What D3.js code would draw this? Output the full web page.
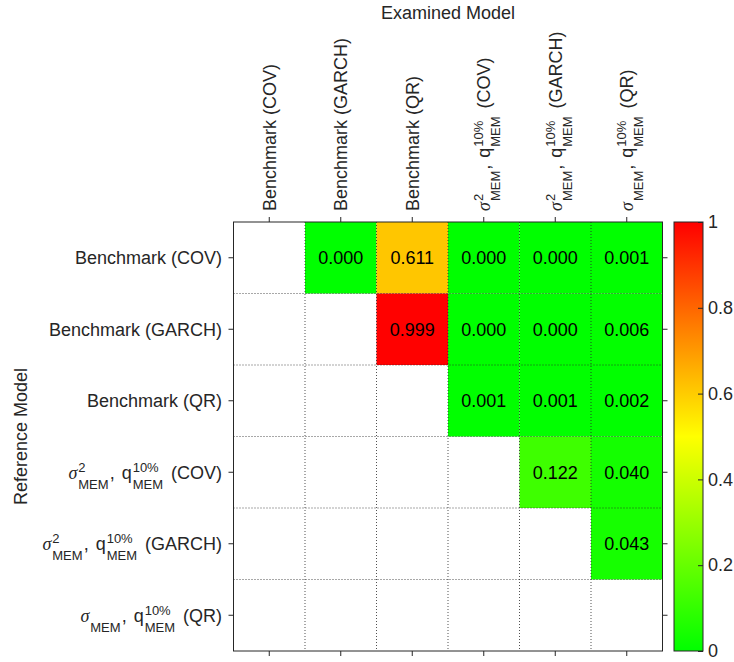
<!DOCTYPE html>
<html>
<head>
<meta charset="utf-8">
<script src="https://cdn.jsdelivr.net/npm/d3@7"></script>
<style>
  html, body { margin: 0; padding: 0; background: #fff; }
  svg { display: block; font-family: "Liberation Sans", Arial, Helvetica, sans-serif; }
  text { white-space: pre; }
</style>
</head>
<body>
<svg id="chart" width="734" height="662"></svg>
<script>
// ---------------- data ----------------
const xTitle = "Examined Model";
const yTitle = "Reference Model";

// model labels (shared by both axes); each label is a list of text pieces with optional super/subscripts
const modelLabels = [
  [{t: "Benchmark (COV)"}],
  [{t: "Benchmark (GARCH)"}],
  [{t: "Benchmark (QR)"}],
  [{t: "σ", greek: true, sup: "2", sub: "MEM"}, {t: ","}, {t: " q", sup: "10%", sub: "MEM"}, {t: " (COV)"}],
  [{t: "σ", greek: true, sup: "2", sub: "MEM"}, {t: ","}, {t: " q", sup: "10%", sub: "MEM"}, {t: " (GARCH)"}],
  [{t: "σ", greek: true, sub: "MEM"}, {t: ","}, {t: " q", sup: "10%", sub: "MEM"}, {t: " (QR)"}]
];

// p-values: rows = reference model, columns = examined model (null = not shown)
const rowBenchCOV    = [null, 0.000, 0.611, 0.000, 0.000, 0.001];
const rowBenchGARCH  = [null, null,  0.999, 0.000, 0.000, 0.006];
const rowBenchQR     = [null, null,  null,  0.001, 0.001, 0.002];
const rowMemCOV      = [null, null,  null,  null,  0.122, 0.040];
const rowMemGARCH    = [null, null,  null,  null,  null,  0.043];
const rowMemQR       = [null, null,  null,  null,  null,  null ];
const pValues = [rowBenchCOV, rowBenchGARCH, rowBenchQR, rowMemCOV, rowMemGARCH, rowMemQR];

const colorTicks = [0, 0.2, 0.4, 0.6, 0.8, 1];

// ---------------- layout ----------------
const svg = d3.select("#chart");
const P = {x0: 233.5, x1: 662.5, y0: 222, y1: 651};
const CB = {x0: 674, x1: 703};
const axisColor = "#262626";
const FS = 18, SFS = 13;

const idx = d3.range(modelLabels.length);
const x = d3.scaleBand().domain(idx).range([P.x0, P.x1]);
const y = d3.scaleBand().domain(idx).range([P.y0, P.y1]);
const color = d3.scaleLinear().domain([0, 0.5, 1]).range(["#00ff00", "#ffff00", "#ff0000"]);

// background
svg.append("rect").attr("x", P.x0).attr("y", P.y0).attr("width", P.x1 - P.x0).attr("height", P.y1 - P.y0).attr("fill", "#fff");

// cells
const cells = [];
pValues.forEach((row, r) => row.forEach((v, c) => { if (v !== null) cells.push({r, c, v}); }));

svg.append("g").selectAll("rect").data(cells).join("rect")
  .attr("x", d => x(d.c)).attr("y", d => y(d.r))
  .attr("width", x.bandwidth()).attr("height", y.bandwidth())
  .attr("fill", d => color(d.v));

// grid (dotted, on top)
const grid = svg.append("g").attr("stroke", axisColor).attr("stroke-opacity", 0.8)
  .attr("stroke-width", 1).attr("stroke-dasharray", "1,2");
idx.slice(1).forEach(i => {
  grid.append("line").attr("x1", x(i)).attr("x2", x(i)).attr("y1", P.y0).attr("y2", P.y1);
  grid.append("line").attr("y1", y(i)).attr("y2", y(i)).attr("x1", P.x0).attr("x2", P.x1);
});

// values
svg.append("g").selectAll("text").data(cells).join("text")
  .attr("x", d => x(d.c) + x.bandwidth() / 2)
  .attr("y", d => y(d.r) + y.bandwidth() / 2 + 6.3)
  .attr("text-anchor", "middle")
  .style("font-size", FS + "px")
  .attr("fill", "#000")
  .text(d => d3.format(".3f")(d.v));

// axes (ticks only, outward)
const noLab = () => "";
function styleAxis(g) {
  g.select(".domain").remove();
  g.selectAll(".tick line").attr("stroke", axisColor);
}
svg.append("g").attr("transform", `translate(0,${P.y0})`)
  .call(d3.axisTop(x).tickSizeInner(5).tickSizeOuter(0).tickFormat(noLab)).call(styleAxis);
svg.append("g").attr("transform", `translate(0,${P.y1})`)
  .call(d3.axisBottom(x).tickSizeInner(5).tickSizeOuter(0).tickFormat(noLab)).call(styleAxis);
svg.append("g").attr("transform", `translate(${P.x0},0)`)
  .call(d3.axisLeft(y).tickSizeInner(5).tickSizeOuter(0).tickFormat(noLab)).call(styleAxis);
svg.append("g").attr("transform", `translate(${P.x1},0)`)
  .call(d3.axisRight(y).tickSizeInner(5).tickSizeOuter(0).tickFormat(noLab)).call(styleAxis);

// box
svg.append("rect").attr("x", P.x0).attr("y", P.y0).attr("width", P.x1 - P.x0).attr("height", P.y1 - P.y0)
  .attr("fill", "none").attr("stroke", axisColor).attr("stroke-width", 1);

// math-ish label renderer
function drawLabel(g, segs) {
  let cx = 0;
  segs.forEach(s => {
    if (s.t.startsWith(" ")) cx += 2;
    const t = g.append("text").attr("x", cx).attr("y", 0).style("font-size", FS + "px").text(s.t);
    if (s.greek) t.style("font-family", "'Liberation Serif', 'DejaVu Serif', serif").style("font-style", "italic");
    cx += t.node().getComputedTextLength();
    if (s.sup || s.sub) {
      cx += 1;
      let w = 0;
      if (s.sup) {
        const u = g.append("text").attr("x", cx).attr("y", -7).style("font-size", SFS + "px").text(s.sup);
        w = Math.max(w, u.node().getComputedTextLength());
      }
      if (s.sub) {
        const u = g.append("text").attr("x", cx).attr("y", 10).style("font-size", SFS + "px").text(s.sub);
        w = Math.max(w, u.node().getComputedTextLength());
      }
      cx += w + 1;
    }
  });
  return cx;
}

// left labels
modelLabels.forEach((lab, i) => {
  const g = svg.append("g").attr("fill", axisColor);
  const w = drawLabel(g, lab);
  g.attr("transform", `translate(${222 - w},${y(i) + y.bandwidth() / 2 + 6.3})`);
});

// top labels (rotated)
modelLabels.forEach((lab, i) => {
  const g = svg.append("g").attr("fill", axisColor);
  drawLabel(g, lab);
  g.attr("transform", `translate(${x(i) + x.bandwidth() / 2 + 6.3},211) rotate(-90)`);
});

// titles
svg.append("text").attr("x", (P.x0 + P.x1) / 2).attr("y", 19).attr("text-anchor", "middle")
  .style("font-size", FS + "px").attr("fill", axisColor).text(xTitle);
svg.append("text").attr("transform", `translate(27,${(P.y0 + P.y1) / 2}) rotate(-90)`)
  .attr("text-anchor", "middle").style("font-size", FS + "px").attr("fill", axisColor).text(yTitle);

// colorbar
const cScale = d3.scaleLinear().domain([0, 1]).range([P.y1, P.y0]);
const defs = svg.append("defs");
const grad = defs.append("linearGradient").attr("id", "cbgrad").attr("x1", 0).attr("y1", 1).attr("x2", 0).attr("y2", 0);
d3.range(0, 1.0001, 0.05).forEach(v => grad.append("stop").attr("offset", v).attr("stop-color", color(v)));
svg.append("rect").attr("x", CB.x0).attr("y", P.y0).attr("width", CB.x1 - CB.x0).attr("height", P.y1 - P.y0)
  .attr("fill", "url(#cbgrad)").attr("stroke", axisColor).attr("stroke-width", 1);
const cbAxis = svg.append("g").attr("transform", `translate(${CB.x1},0)`)
  .call(d3.axisRight(cScale).tickValues(colorTicks).tickSizeInner(-5).tickSizeOuter(0).tickPadding(5)
    .tickFormat(d => d3.format("~g")(d)));
cbAxis.select(".domain").remove();
cbAxis.selectAll(".tick line").attr("stroke", axisColor);
cbAxis.selectAll(".tick text").style("font-size", FS + "px").style("font-family", "'Liberation Sans', Arial, sans-serif").attr("fill", axisColor);
</script>
</body>
</html>
